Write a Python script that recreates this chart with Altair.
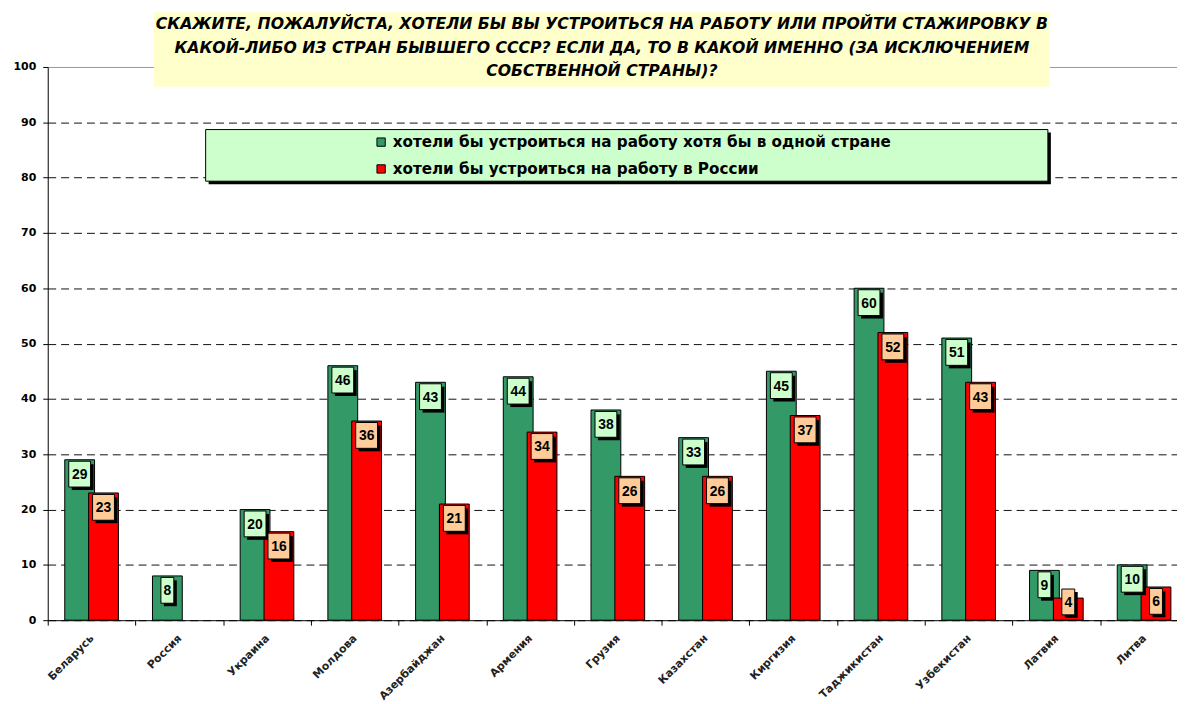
import altair as alt
import pandas as pd

countries = ["Беларусь", "Россия", "Украина", "Молдова", "Азербайджан", "Армения",
             "Грузия", "Казахстан", "Киргизия", "Таджикистан", "Узбекистан", "Латвия", "Литва"]
any_country = [29, 8, 20, 46, 43, 44, 38, 33, 45, 60, 51, 9, 10]
russia = [23, None, 16, 36, 21, 34, 26, 26, 37, 52, 43, 4, 6]
series = ["хотели бы устроиться на работу хотя бы в одной стране",
          "хотели бы устроиться на работу в России"]
y_ticks = list(range(0, 101, 10))
title_lines = [
    "СКАЖИТЕ, ПОЖАЛУЙСТА, ХОТЕЛИ БЫ ВЫ  УСТРОИТЬСЯ НА РАБОТУ ИЛИ ПРОЙТИ СТАЖИРОВКУ  В",
    "КАКОЙ-ЛИБО ИЗ СТРАН БЫВШЕГО СССР? ЕСЛИ ДА, ТО В КАКОЙ ИМЕННО (ЗА ИСКЛЮЧЕНИЕМ",
    "СОБСТВЕННОЙ СТРАНЫ)?",
]

rows = []
for c, a, r in zip(countries, any_country, russia):
    rows.append({"country": c, "series": series[0], "value": a})
    if r is not None:
        rows.append({"country": c, "series": series[1], "value": r})
df = pd.DataFrame(rows)

W, H = 1137, 557
FONT = "DejaVu Sans"
VFONT = "Arial"

X = alt.X("country:N", sort=countries,
          scale=alt.Scale(range=[0, 1148], paddingInner=0, paddingOuter=0, round=False),
          axis=alt.Axis(title=None, labelAngle=-45, labelAlign="right", labelBaseline="top",
                        labelFont=FONT, labelFontSize=11, labelFontWeight="bold", labelColor="#222",
                        labelPadding=7, labelOffset=-4, tickBand="extent", tickSize=5,
                        tickColor="black", domainColor="black", grid=False))
Y = alt.Y("value:Q", scale=alt.Scale(domain=[0, 100], nice=False),
          axis=alt.Axis(title=None, values=y_ticks, grid=True,
                        gridColor={"condition": {"test": "datum.value == 100", "value": "#9a9a9a"}, "value": "#111"},
                        gridDash={"condition": {"test": "datum.value == 100", "value": []}, "value": [8, 5]},
                        tickSize=5, tickColor="black", domainColor="black",
                        labelFont=FONT, labelFontSize=11, labelFontWeight="bold", labelColor="black",
                        labelPadding=7))

color = alt.Color("series:N", scale=alt.Scale(domain=series, range=["#339966", "#FF0000"]),
                  legend=alt.Legend(orient="none", legendX=328, legendY=68, title=None,
                                    labelFont=FONT, labelFontSize=15.3, labelFontWeight="bold",
                                    labelColor="black", labelLimit=0, symbolType="square",
                                    symbolSize=70, symbolStrokeColor="black", symbolStrokeWidth=1,
                                    symbolOpacity=1, rowPadding=11, padding=0, labelOffset=4))

base = alt.Chart(df)
offsets = {series[0]: -12, series[1]: 12}
box_fill = {series[0]: "#CCFFCC", series[1]: "#FFCC99"}
shape_scale = alt.Scale(domain=["1", "2"],
                        range=["M-0.5,-1L0.5,-1L0.5,1L-0.5,1Z",
                               "M-0.846,-1L0.846,-1L0.846,1L-0.846,1Z"])

bar_layers = []
label_layers = []
for s in series:
    off = offsets[s]
    sub = base.transform_filter(alt.datum.series == s)
    bar_layers.append(
        sub.mark_bar(width=30, xOffset=off, stroke="black", strokeWidth=1)
        .encode(x=X, y=Y, color=color)
    )
    # label anchor: just inside the bar top, kept clear of the baseline for short bars
    lab = sub.transform_calculate(
        nd="toString(length(toString(datum.value)))",
        ly="max(datum.value - 2.6, 3.3)")
    LY = alt.Y("ly:Q")
    label_layers.append(
        lab.mark_point(filled=True, fill="black", opacity=1, size=676, xOffset=off + 3, yOffset=3, strokeWidth=0)
        .encode(x=X, y=LY, shape=alt.Shape("nd:N", scale=shape_scale, legend=None))
    )
    label_layers.append(
        lab.mark_point(filled=True, fill=box_fill[s], opacity=1, size=676, xOffset=off,
                       stroke="black", strokeWidth=1)
        .encode(x=X, y=LY, shape=alt.Shape("nd:N", scale=shape_scale, legend=None))
    )
    label_layers.append(
        lab.mark_text(font=VFONT, fontSize=14, fontWeight="bold", color="black", xOffset=off, dy=1,
                      baseline="middle", align="center")
        .encode(x=X, y=LY, text="value:Q")
    )

one = alt.Data(values=[{}])
title_box = alt.Chart(one).mark_rect(color="#FFFFCC").encode(
    x=alt.value(107), x2=alt.value(1009), y=alt.value(-55), y2=alt.value(20))
title_text = alt.Chart(one).mark_text(
    text=title_lines, font=FONT, fontSize=15.8, fontStyle="italic", fontWeight="bold",
    color="black", lineHeight=23.5, baseline="middle", align="center"
).encode(x=alt.value(558), y=alt.value(-43))
legend_shadow = alt.Chart(one).mark_rect(color="black").encode(
    x=alt.value(162), x2=alt.value(1010), y=alt.value(66), y2=alt.value(118))
legend_box = alt.Chart(one).mark_rect(fill="#CCFFCC", stroke="black", strokeWidth=1).encode(
    x=alt.value(159), x2=alt.value(1007), y=alt.value(63), y2=alt.value(115))

chart = alt.layer(
    *bar_layers, *label_layers, title_box, title_text, legend_shadow, legend_box
).properties(
    width=W, height=H, autosize="none",
    padding={"left": 40, "top": 57, "right": 0, "bottom": 82},
    background="white"
).configure_view(stroke=None)

chart.save("out.html", embed_options={"renderer": "svg", "actions": False})
